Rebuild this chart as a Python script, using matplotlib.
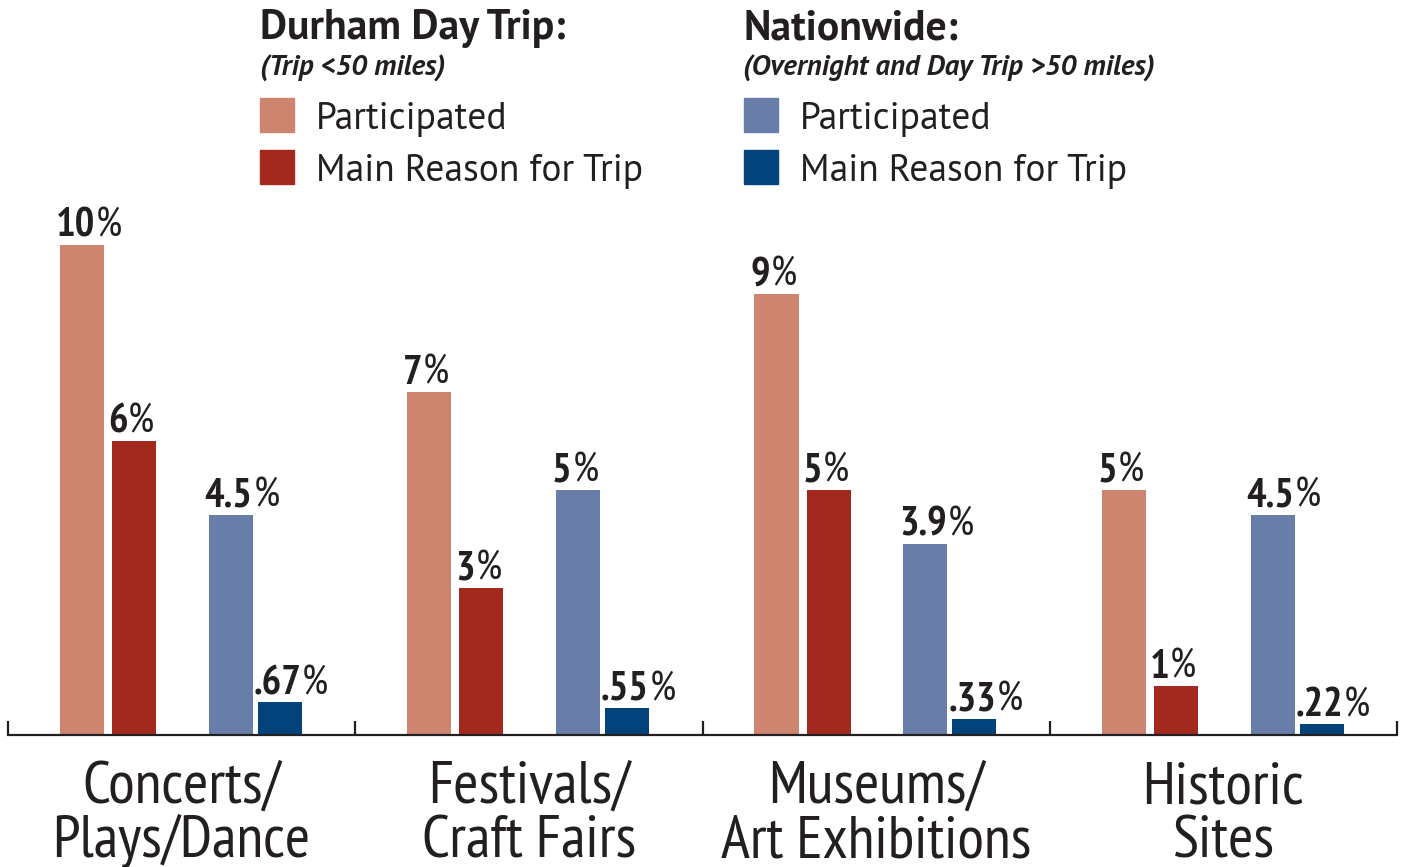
import matplotlib.pyplot as plt
from matplotlib.patches import Rectangle

# data (percent)
categories = ['Concerts/\nPlays/Dance', 'Festivals/\nCraft Fairs',
              'Museums/\nArt Exhibitions', 'Historic\nSites']
durham_participated = [10, 7, 9, 5]
durham_main = [6, 3, 5, 1]
national_participated = [4.5, 5, 3.9, 4.5]
national_main = [0.67, 0.55, 0.33, 0.22]

series = [durham_participated, durham_main, national_participated, national_main]
colors = ['#CD8570', '#A3281E', '#687EA8', '#03437B']
offsets = [0.213, 0.363, 0.642, 0.783]   # bar centres inside each group
bar_w = 0.127

legend_heads = ['Durham Day Trip:', 'Nationwide:']
legend_subs = ['(Trip <50 miles)', '(Overnight and Day Trip >50 miles)']
legend_items = ['Participated', 'Main Reason for Trip']

W, H = 1409, 867
TXT = '#231F20'
COND = ['PT Sans Narrow', 'Fira Sans Condensed', 'Barlow Semi Condensed', 'DejaVu Sans']
MYR = ['Source Sans Pro', 'PT Sans', 'Fira Sans', 'Liberation Sans']


def fx(px):
    return px / W


def fy(py):
    return 1 - py / H


def fmt(v):
    if v < 1:
        return ('%.2f' % v).lstrip('0')
    if v == int(v):
        return str(int(v))
    return '%.1f' % v


fig = plt.figure(figsize=(W / 100, H / 100), dpi=100)
ax = fig.add_axes([fx(8), fy(735), 1389 / W, 588 / H])
ax.set_xlim(0, 4)
ax.set_ylim(0, 12)

for s, vals in enumerate(series):
    for i, v in enumerate(vals):
        x = i + offsets[s]
        ax.bar(x, v, width=bar_w, color=colors[s], zorder=2)
        num = ax.annotate(fmt(v), xy=(x - bar_w / 2, v), xytext=(-3, 5.8),
                          textcoords='offset points', ha='left', va='baseline',
                          fontsize=29.5, fontweight='bold', family=COND, color=TXT)
        ax.annotate('%', xy=(1, 0), xycoords=num, xytext=(0.5, 0),
                    textcoords='offset points', ha='left', va='bottom',
                    fontsize=29.5, family=COND, color=TXT)

for side in ['left', 'top', 'right']:
    ax.spines[side].set_visible(False)
ax.spines['bottom'].set_linewidth(1.6)
ax.spines['bottom'].set_color(TXT)
ax.set_yticks([])
ax.set_xticks(range(len(categories) + 1))
ax.tick_params(axis='x', direction='in', length=10, width=1.6, color=TXT,
               labelbottom=False)

# category names under each group
for i, name in enumerate(categories):
    for j, line in enumerate(name.split('\n')):
        ax.text(i + 0.5, -(68 + 54 * j) / 588, line,
                transform=ax.get_xaxis_transform(),
                ha='center', va='baseline', fontsize=44, family=COND,
                color=TXT)

# legend blocks drawn by hand
head_x = [260, 743]
box_x = [260, 744]
item_x = [316, 800]
for k in range(2):
    fig.text(fx(head_x[k]), fy(39), legend_heads[k], fontsize=30,
             fontweight='bold', family=MYR, color=TXT, va='baseline')
    fig.text(fx(head_x[k]), fy(76), legend_subs[k], fontsize=20.8,
             fontweight='bold', style='italic', family=MYR, color=TXT,
             va='baseline')
    for m in range(2):
        top = 98 + 52 * m
        fig.add_artist(Rectangle((fx(box_x[k]), fy(top + 34)), 34 / W, 34 / H,
                                 transform=fig.transFigure,
                                 color=colors[2 * k + m]))
        fig.text(fx(item_x[k]), fy(129 + 52 * m), legend_items[m],
                 fontsize=27, family=MYR, color=TXT, va='baseline')

fig.savefig('out.png', dpi=100)
